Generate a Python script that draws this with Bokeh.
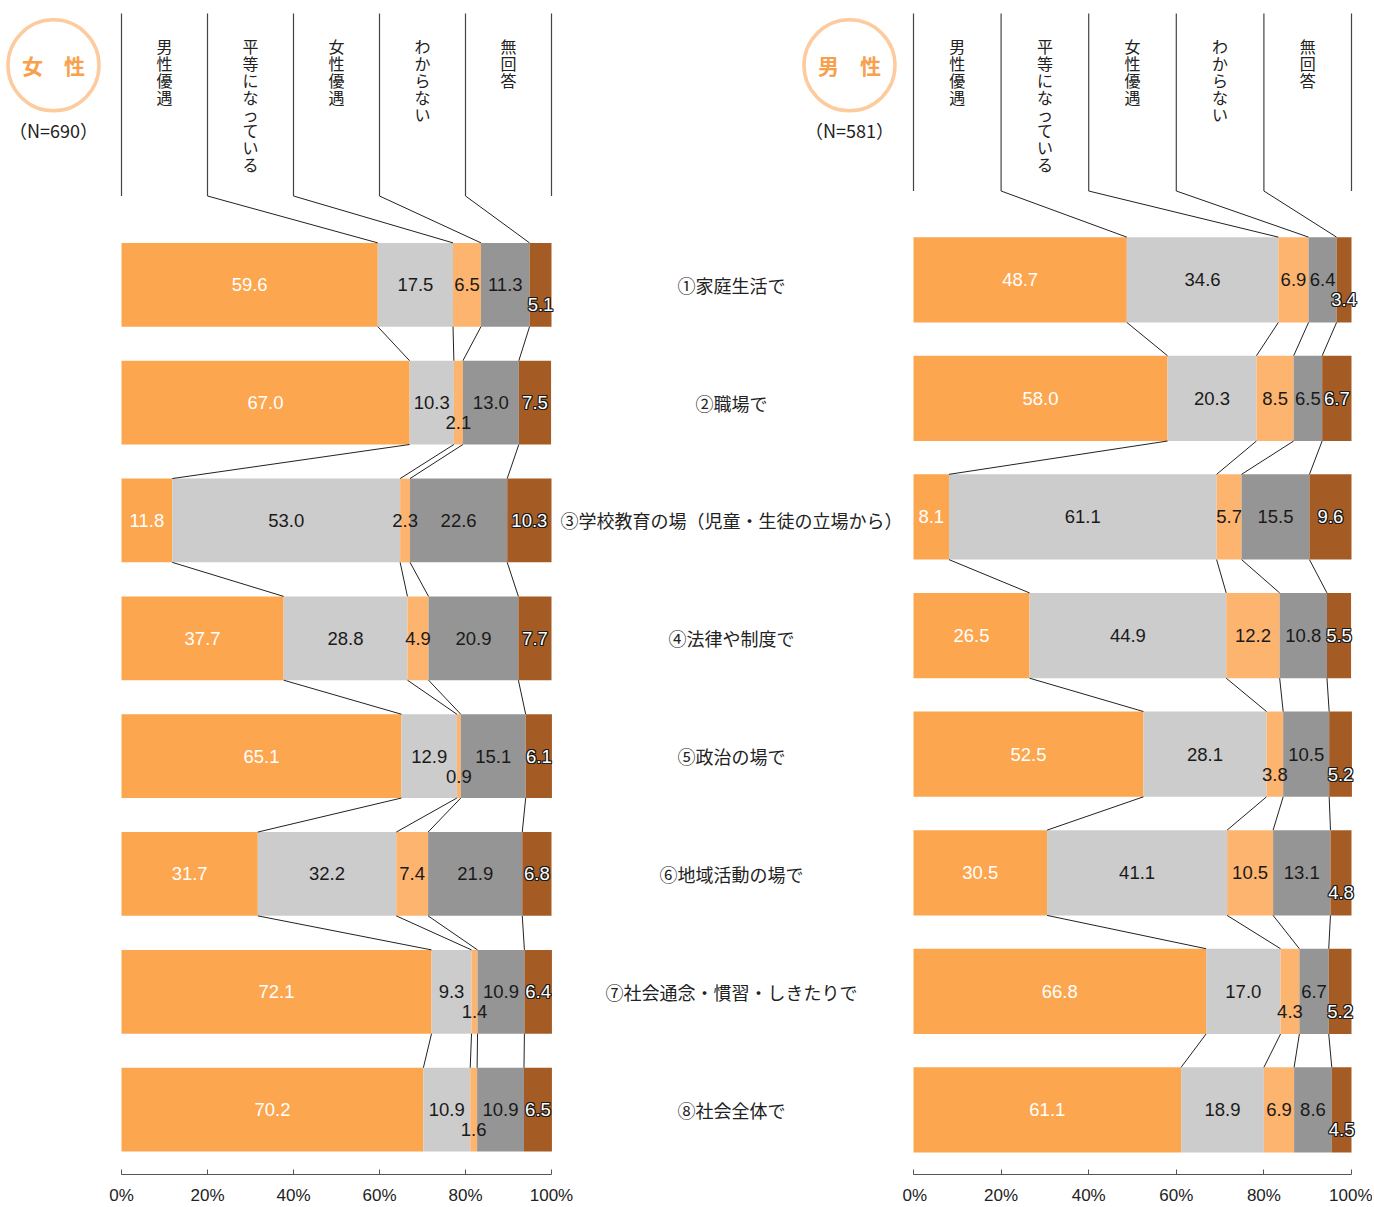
import numpy as np
from bokeh.plotting import figure
from bokeh.models import Range1d, FixedTicker
from bokeh.layouts import row
from bokeh.embed import file_html
from bokeh.resources import INLINE
from bokeh.core.properties import value

# ---------------- data ----------------
categories = ["①家庭生活で", "②職場で", "③学校教育の場（児童・生徒の立場から）", "④法律や制度で",
              "⑤政治の場で", "⑥地域活動の場で", "⑦社会通念・慣習・しきたりで", "⑧社会全体で"]
answers = ["男性優遇", "平等になっている", "女性優遇", "わからない", "無回答"]
women_title = "女　性"
men_title = "男　性"
women_n = "（N=690）"
men_n = "（N=581）"

women_male_pref = [59.6, 67.0, 11.8, 37.7, 65.1, 31.7, 72.1, 70.2]
women_equal = [17.5, 10.3, 53.0, 28.8, 12.9, 32.2, 9.3, 10.9]
women_female_pref = [6.5, 2.1, 2.3, 4.9, 0.9, 7.4, 1.4, 1.6]
women_dont_know = [11.3, 13.0, 22.6, 20.9, 15.1, 21.9, 10.9, 10.9]
women_no_answer = [5.1, 7.5, 10.3, 7.7, 6.1, 6.8, 6.4, 6.5]

men_male_pref = [48.7, 58.0, 8.1, 26.5, 52.5, 30.5, 66.8, 61.1]
men_equal = [34.6, 20.3, 61.1, 44.9, 28.1, 41.1, 17.0, 18.9]
men_female_pref = [6.9, 8.5, 5.7, 12.2, 3.8, 10.5, 4.3, 6.9]
men_dont_know = [6.4, 6.5, 15.5, 10.8, 10.5, 13.1, 6.7, 8.6]
men_no_answer = [3.4, 6.7, 9.6, 5.5, 5.2, 4.8, 5.2, 4.5]

tick_values = [0, 20, 40, 60, 80, 100]
tick_labels = ["0%", "20%", "40%", "60%", "80%", "100%"]

# labels drawn below the bar centre (row, segment) -- style only
women_low = {(0, 4), (1, 2), (4, 2), (6, 2), (7, 2)}
men_low = {(0, 4), (4, 2), (4, 4), (5, 4), (6, 2), (6, 4), (7, 4)}

# ---------------- style ----------------
COLORS = ["#FDA650", "#CCCCCC", "#FDB46F", "#959595", "#A55C24"]
JP = "Noto Sans CJK JP"
NUM = "Liberation Sans"
H = 1207
W1, W2 = 902, 470
BOTTOM = 30

# layout helpers (page-pixel layout -> data units)
def lx(px): return (px - 121.0) / 4.30
def rx(px): return (px - 913.0) / 4.38
def ly(r): return (r - 285.0) / 118.14
def ry(r): return (r - 280.0) / 118.9


def make_fig(width, xr, yr):
    p = figure(width=width, height=H, x_range=xr, y_range=yr, output_backend="svg",
               toolbar_location=None, y_axis_location=None,
               min_border_left=0, min_border_right=0, min_border_top=0, min_border_bottom=BOTTOM)
    p.outline_line_color = None
    p.grid.visible = False
    p.background_fill_color = "white"
    p.border_fill_color = "white"
    ax = p.xaxis[0]
    ax.ticker = FixedTicker(ticks=tick_values)
    ax.bounds = (0, 100)
    ax.major_label_overrides = {v: l for v, l in zip(tick_values, tick_labels)}
    ax.major_tick_in = 5
    ax.major_tick_out = 0
    ax.minor_tick_line_color = None
    ax.axis_line_color = "#555555"
    ax.major_tick_line_color = "#555555"
    ax.major_label_standoff = 11
    ax.major_label_text_font = NUM
    ax.major_label_text_font_size = "17px"
    ax.major_label_text_color = "#222222"
    return p


def draw_panel(p, cols, bar_h, hdr_top, hdr_bottom, text_top, low):
    vals = np.array(cols).T
    n = vals.shape[0]
    cum = np.hstack([np.zeros((n, 1)), np.cumsum(vals, axis=1)])
    ys = np.arange(n)
    for k in range(5):
        p.hbar(y=ys, left=cum[:, k], right=cum[:, k + 1], height=bar_h,
               fill_color=COLORS[k], line_color=None)
    # connectors between bars
    x0, y0, x1, y1 = [], [], [], []
    for i in range(n - 1):
        for k in range(1, 5):
            x0.append(cum[i, k]); y0.append(i + bar_h / 2)
            x1.append(cum[i + 1, k]); y1.append(i + 1 - bar_h / 2)
    p.segment(x0=x0, y0=y0, x1=x1, y1=y1, line_color="#222222", line_width=1)
    # header columns
    p.segment(x0=tick_values, y0=[hdr_top] * 6, x1=tick_values, y1=[hdr_bottom] * 6,
              line_color="#444444", line_width=1.2)
    p.segment(x0=tick_values[1:5], y0=[hdr_bottom] * 4, x1=list(cum[0, 1:5]),
              y1=[-bar_h / 2] * 4, line_color="#222222", line_width=1)
    mids = [(tick_values[j] + tick_values[j + 1]) / 2 for j in range(5)]
    p.text(x=mids, y=[text_top] * 5, text=["\n".join(a) for a in answers],
           text_font=value(JP), text_font_size="16px", text_align="center",
           text_baseline="top", text_line_height=0.7, text_color="#222222")
    # value labels
    for k in range(5):
        xs = (cum[:, k] + cum[:, k + 1]) / 2
        txt = [f"{v:.1f}" for v in vals[:, k]]
        yoff = [20 if (i, k) in low else 0 for i in range(n)]
        if k == 4:
            for dx, dy in [(-1, -1), (1, -1), (-1, 1), (1, 1), (-1, 0), (1, 0), (0, -1), (0, 1)]:
                p.text(x=xs, y=ys, text=txt, x_offset=dx, y_offset=[o + dy for o in yoff],
                       text_font=value(NUM), text_font_size="18.5px", text_align="center",
                       text_baseline="middle", text_color="#1a1a1a")
            color = "white"
        elif k == 0:
            color = "white"
        else:
            color = "#1a1a1a"
        p.text(x=xs, y=ys, text=txt, y_offset=yoff,
               text_font=value(NUM), text_font_size="18.5px", text_align="center",
               text_baseline="middle", text_color=color)


def badge(p, cx, cy, ny, title, ntxt):
    p.scatter(x=[cx], y=[cy], marker="circle", size=91, fill_color=None,
              line_color="#FDCB9E", line_width=3.5)
    p.text(x=[cx], y=[cy], text=[title], text_font=value(JP), text_font_size="21px",
           text_font_style="bold", text_color="#F8A04B", text_align="center",
           text_baseline="middle")
    p.text(x=[cx], y=[ny], text=[ntxt], text_font=value(JP), text_font_size="18px",
           text_color="#222222", text_align="center", text_baseline="middle")


FRAME_BOTTOM = H - BOTTOM

# ---------------- left figure (women + category labels + men badge) ----------------
p1 = make_fig(W1, Range1d(lx(0), lx(W1)), Range1d(ly(FRAME_BOTTOM), ly(0)))
draw_panel(p1, [women_male_pref, women_equal, women_female_pref, women_dont_know, women_no_answer],
           84 / 118.14, ly(13), ly(196), ly(34), women_low)
p1.text(x=[lx(731)] * len(categories), y=np.arange(len(categories)), text=categories,
        text_font=value(JP), text_font_size="18px", text_align="center",
        text_baseline="middle", text_color="#222222")
badge(p1, lx(53), ly(65), ly(130), women_title, women_n)
badge(p1, lx(849), ly(65), ly(130), men_title, men_n)

# ---------------- right figure (men) ----------------
p2 = make_fig(W2, Range1d(rx(W1), rx(W1 + W2)), Range1d(ry(FRAME_BOTTOM), ry(0)))
draw_panel(p2, [men_male_pref, men_equal, men_female_pref, men_dont_know, men_no_answer],
           85.5 / 118.9, ry(13), ry(191), ry(34), men_low)

layout = row(p1, p2, spacing=0)
open("out.html", "w").write(file_html(layout, INLINE))
